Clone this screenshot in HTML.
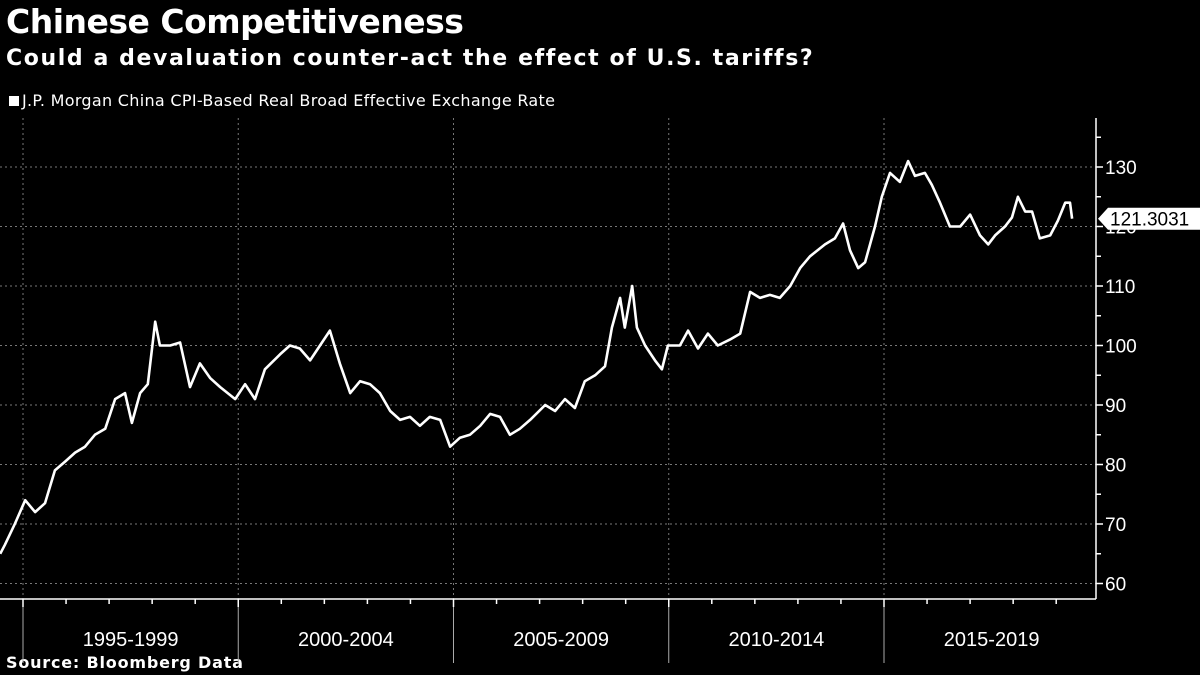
<!DOCTYPE html>
<html><head><meta charset="utf-8"><style>
html,body{margin:0;padding:0;background:#000;}
body{width:1200px;height:675px;overflow:hidden;font-family:"Liberation Sans","DejaVu Sans",sans-serif;color:#fff;position:relative}
.t{position:absolute;white-space:nowrap}
</style></head><body>
<div class="t" style="left:6px;top:2px;font-size:33px;font-weight:bold;font-family:'DejaVu Sans',sans-serif;letter-spacing:-0.5px">Chinese Competitiveness</div>
<div class="t" style="left:6px;top:46px;font-size:22px;font-weight:bold;font-family:'DejaVu Sans',sans-serif;letter-spacing:1.6px">Could a devaluation counter-act the effect of U.S. tariffs?</div>
<div class="t" style="left:9px;top:91px;font-size:16px;font-family:'DejaVu Sans',sans-serif;letter-spacing:0.3px"><span style="display:inline-block;width:10px;height:10px;background:#fff;margin-right:3px"></span>J.P. Morgan China CPI-Based Real Broad Effective Exchange Rate</div>
<div class="t" style="left:6px;top:653px;font-size:16px;font-weight:bold;font-family:'DejaVu Sans',sans-serif;letter-spacing:0.8px">Source: Bloomberg Data</div>
<svg id="c" width="1200" height="675" style="position:absolute;left:0;top:0"></svg>
<script>
const years=[1994.47,1994.58,1994.81,1995.05,1995.28,1995.51,1995.74,1995.98,1996.21,1996.44,1996.67,1996.91,1997.14,1997.37,1997.53,1997.72,1997.90,1998.07,1998.18,1998.42,1998.65,1998.88,1999.11,1999.35,1999.58,1999.93,2000.16,2000.39,2000.62,2000.97,2001.20,2001.43,2001.67,2001.90,2002.13,2002.36,2002.60,2002.83,2003.06,2003.29,2003.53,2003.76,2003.99,2004.22,2004.45,2004.69,2004.92,2005.15,2005.38,2005.62,2005.85,2006.08,2006.31,2006.54,2006.78,2007.13,2007.36,2007.59,2007.82,2008.05,2008.29,2008.52,2008.68,2008.87,2008.98,2009.15,2009.26,2009.45,2009.68,2009.84,2009.98,2010.26,2010.45,2010.68,2010.91,2011.14,2011.42,2011.66,2011.89,2012.12,2012.35,2012.58,2012.82,2013.05,2013.28,2013.63,2013.86,2014.05,2014.21,2014.40,2014.56,2014.79,2014.95,2015.14,2015.37,2015.56,2015.72,2015.95,2016.11,2016.30,2016.53,2016.77,2017.00,2017.23,2017.42,2017.58,2017.81,2017.97,2018.11,2018.28,2018.44,2018.62,2018.86,2019.04,2019.21,2019.32,2019.37];
const values=[65,66.5,70,74,72,73.5,79,80.5,82,83,85,86,91,92,87,92,93.5,104,100,100,100.5,93,97,94.5,93,91,93.5,91,96,98.5,100,99.5,97.5,100,102.5,97,92,94,93.5,92,89,87.5,88,86.5,88,87.5,83,84.5,85,86.5,88.5,88,85,86,87.5,90,89,91,89.5,94,95,96.5,103,108,103,110,103,100,97.5,96,100,100,102.5,99.5,102,100,101,102,109,108,108.5,108,110,113,115,117,118,120.5,116,113,114,120,125,129,127.5,131,128.5,129,127,124,120,120,122,118.5,117,118.5,120,121.5,125,122.5,122.5,118,118.5,121,124,124,121.3031];
const yTicks=[60,70,80,90,100,110,120,130];
const xGroups=["1995-1999","2000-2004","2005-2009","2010-2014","2015-2019"];
(function(){
const svg=document.getElementById('c');const NS='http://www.w3.org/2000/svg';
const X=y=>23+(y-1995)*43.05;
const Y=v=>167+(130-v)*5.95;
function el(t,a,p){const e=document.createElementNS(NS,t);for(const k in a)e.setAttribute(k,a[k]);(p||svg).appendChild(e);return e;}
const axX=1096,pTop=118,pBot=599;
yTicks.forEach(v=>{const g=el('line',{x1:0,x2:axX,y1:Y(v),y2:Y(v),stroke:'#777','stroke-dasharray':'2,3','stroke-width':1});

const tk=el('line',{x1:axX,x2:axX+7,y1:Y(v),y2:Y(v),stroke:'#fff','stroke-width':1.5});

const tx=el('text',{x:axX+9,y:Y(v)+7,fill:'#fff','font-size':19,'font-family':'Liberation Sans, sans-serif'});tx.textContent=v;
});
for(let v=65;v<=135;v+=10){const m=el('line',{x1:axX,x2:axX+5,y1:Y(v),y2:Y(v),stroke:'#fff','stroke-width':1.5});
}
xGroups.forEach((g,i)=>{const x0=X(1995+i*5);
const gl=el('line',{x1:x0,x2:x0,y1:pTop,y2:pBot,stroke:'#777','stroke-dasharray':'2,3'});

const sep=el('line',{x1:x0,x2:x0,y1:pBot,y2:pBot+64,stroke:'#aaa','stroke-width':1});

const tx=el('text',{x:(x0+X(1995+(i+1)*5))/2,y:646,fill:'#fff','font-size':20,'text-anchor':'middle','font-family':'Liberation Sans, sans-serif'});
tx.textContent=g;
});
for(let yr=1995;yr<=2019;yr++){const t=el('line',{x1:X(yr),x2:X(yr),y1:pBot,y2:pBot+(yr%5==0?8:5),stroke:'#fff','stroke-width':1.5});
}
const xa=el('line',{x1:0,x2:axX,y1:pBot,y2:pBot,stroke:'#fff','stroke-width':1.5});

const ya=el('line',{x1:axX,x2:axX,y1:pTop,y2:pBot,stroke:'#fff','stroke-width':1.5});

const d=years.map((y,i)=>(i?'L':'M')+X(y).toFixed(1)+' '+Y(values[i]).toFixed(1)).join('');
const ln=el('path',{d:d,fill:'none',stroke:'#fff','stroke-width':2.6,'stroke-linejoin':'round'});

const lv=values[values.length-1],ly=Y(lv);
const g=el('g',{});
el('polygon',{points:`${axX+2},${ly} ${axX+12},${ly-11} 1200,${ly-11} 1200,${ly+11} ${axX+12},${ly+11}`,fill:'#fff'},g);
const lt=el('text',{x:axX+14,y:ly+7,fill:'#000','font-size':19,'font-family':'Liberation Sans, sans-serif'},g);lt.textContent=lv.toFixed(4);
})();
</script>
</body></html>
